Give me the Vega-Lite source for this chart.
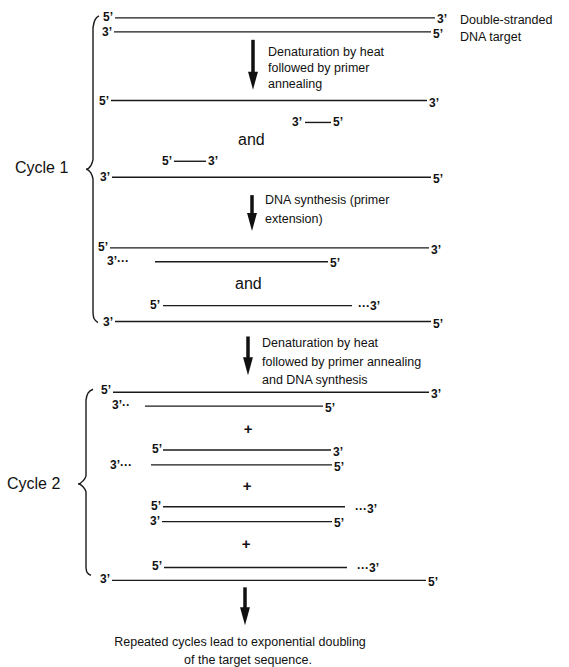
{
  "$schema": "https://vega.github.io/schema/vega-lite/v6.json",
  "width": 569,
  "height": 667,
  "autosize": {"type": "fit", "contains": "padding"},
  "padding": 0,
  "background": "white",
  "config": {"view": {"stroke": null}},
  "datasets": {
    "strands": [
      {"x": 115, "x2": 435, "y": 18},
      {"x": 114, "x2": 431, "y": 32},
      {"x": 111, "x2": 427, "y": 101},
      {"x": 305, "x2": 331, "y": 123},
      {"x": 174, "x2": 206, "y": 162},
      {"x": 112, "x2": 431, "y": 178},
      {"x": 110, "x2": 429, "y": 249},
      {"x": 155, "x2": 328, "y": 263},
      {"x": 163, "x2": 352, "y": 307},
      {"x": 115, "x2": 431, "y": 323},
      {"x": 113, "x2": 429, "y": 394},
      {"x": 145, "x2": 323, "y": 408},
      {"x": 163, "x2": 331, "y": 452},
      {"x": 151, "x2": 332, "y": 467},
      {"x": 163, "x2": 345, "y": 509},
      {"x": 162, "x2": 332, "y": 524},
      {"x": 164, "x2": 347, "y": 570},
      {"x": 112, "x2": 426, "y": 583}
    ],
    "ends": [
      {"x": 103, "y": 17, "t": "5’"}, {"x": 437, "y": 19, "t": "3’"},
      {"x": 102, "y": 32, "t": "3’"}, {"x": 433, "y": 34, "t": "5’"},
      {"x": 99, "y": 101, "t": "5’"}, {"x": 429, "y": 103, "t": "3’"},
      {"x": 292, "y": 123, "t": "3’"}, {"x": 333, "y": 123, "t": "5’"},
      {"x": 162, "y": 162, "t": "5’"}, {"x": 208, "y": 162, "t": "3’"},
      {"x": 100, "y": 178, "t": "3’"}, {"x": 433, "y": 180, "t": "5’"},
      {"x": 98, "y": 248, "t": "5’"}, {"x": 431, "y": 251, "t": "3’"},
      {"x": 107, "y": 262, "t": "3’···"}, {"x": 330, "y": 264, "t": "5’"},
      {"x": 150, "y": 306, "t": "5’"}, {"x": 358, "y": 307, "t": "···3’"},
      {"x": 103, "y": 323, "t": "3’"}, {"x": 433, "y": 325, "t": "5’"},
      {"x": 101, "y": 392, "t": "5’"}, {"x": 431, "y": 396, "t": "3’"},
      {"x": 112, "y": 407, "t": "3’··"}, {"x": 325, "y": 410, "t": "5’"},
      {"x": 152, "y": 451, "t": "5’"}, {"x": 333, "y": 454, "t": "3’"},
      {"x": 110, "y": 467, "t": "3’···"}, {"x": 334, "y": 469, "t": "5’"},
      {"x": 151, "y": 508, "t": "5’"}, {"x": 355, "y": 511, "t": "···3’"},
      {"x": 150, "y": 523, "t": "3’"}, {"x": 334, "y": 525, "t": "5’"},
      {"x": 152, "y": 569, "t": "5’"}, {"x": 357, "y": 571, "t": "···3’"},
      {"x": 100, "y": 582, "t": "3’"}, {"x": 428, "y": 585, "t": "5’"}
    ],
    "notes": [
      {"x": 460, "y": 20, "t": "Double-stranded"},
      {"x": 460, "y": 37, "t": "DNA target"},
      {"x": 268, "y": 52, "t": "Denaturation by heat"},
      {"x": 268, "y": 68, "t": "followed by primer"},
      {"x": 268, "y": 84, "t": "annealing"},
      {"x": 265, "y": 201, "t": "DNA synthesis (primer"},
      {"x": 265, "y": 220, "t": "extension)"},
      {"x": 262, "y": 345, "t": "Denaturation by heat"},
      {"x": 262, "y": 364, "t": "followed by primer annealing"},
      {"x": 262, "y": 382, "t": "and DNA synthesis"}
    ],
    "big": [
      {"x": 15, "y": 169, "t": "Cycle 1"},
      {"x": 7, "y": 486, "t": "Cycle 2"},
      {"x": 238, "y": 141, "t": "and"},
      {"x": 235, "y": 285, "t": "and"}
    ],
    "plus": [
      {"x": 248, "y": 431, "t": "+"},
      {"x": 247, "y": 488, "t": "+"},
      {"x": 246, "y": 546, "t": "+"}
    ],
    "caption": [
      {"x": 240, "y": 645, "t": "Repeated cycles lead to exponential doubling"},
      {"x": 248, "y": 663, "t": "of the target sequence."}
    ],
    "arrows": [
      {"x": 253, "y": 40, "y2": 78, "yh": 81},
      {"x": 252, "y": 196, "y2": 220, "yh": 223},
      {"x": 248, "y": 338, "y2": 365, "yh": 368},
      {"x": 245, "y": 590, "y2": 616, "yh": 619}
    ],
    "braces": [
      {"b": "c1", "o": 1, "x": 99, "y": 16},
      {"b": "c1", "o": 2, "x": 95, "y": 20},
      {"b": "c1", "o": 3, "x": 93, "y": 28},
      {"b": "c1", "o": 4, "x": 93, "y": 160},
      {"b": "c1", "o": 5, "x": 91, "y": 166},
      {"b": "c1", "o": 6, "x": 86, "y": 170},
      {"b": "c1", "o": 7, "x": 91, "y": 174},
      {"b": "c1", "o": 8, "x": 93, "y": 180},
      {"b": "c1", "o": 9, "x": 93, "y": 314},
      {"b": "c1", "o": 10, "x": 94, "y": 320},
      {"b": "c1", "o": 11, "x": 98, "y": 324},
      {"b": "c2", "o": 1, "x": 93, "y": 391},
      {"b": "c2", "o": 2, "x": 88, "y": 395},
      {"b": "c2", "o": 3, "x": 86, "y": 402},
      {"b": "c2", "o": 4, "x": 86, "y": 478},
      {"b": "c2", "o": 5, "x": 83, "y": 483},
      {"b": "c2", "o": 6, "x": 78, "y": 486},
      {"b": "c2", "o": 7, "x": 83, "y": 489},
      {"b": "c2", "o": 8, "x": 86, "y": 494},
      {"b": "c2", "o": 9, "x": 86, "y": 570},
      {"b": "c2", "o": 10, "x": 87, "y": 575},
      {"b": "c2", "o": 11, "x": 91, "y": 578}
    ]
  },
  "layer": [
    {
      "data": {"name": "strands"},
      "mark": {"type": "rule", "color": "#1a1a1a", "strokeWidth": 1.4},
      "encoding": {
        "x": {"field": "x", "type": "quantitative", "scale": {"domain": [0, 569], "nice": false, "zero": false}, "axis": null},
        "x2": {"field": "x2"},
        "y": {"field": "y", "type": "quantitative", "scale": {"domain": [0, 667], "nice": false, "zero": false, "reverse": true}, "axis": null}
      }
    },
    {
      "data": {"name": "braces"},
      "mark": {"type": "line", "color": "#1a1a1a", "strokeWidth": 1.4, "interpolate": "monotone"},
      "encoding": {
        "x": {"field": "x", "type": "quantitative"},
        "y": {"field": "y", "type": "quantitative"},
        "detail": {"field": "b"},
        "order": {"field": "o", "type": "quantitative"}
      }
    },
    {
      "data": {"name": "arrows"},
      "mark": {"type": "rule", "color": "#111", "strokeWidth": 3.5},
      "encoding": {
        "x": {"field": "x", "type": "quantitative"},
        "y": {"field": "y", "type": "quantitative"},
        "y2": {"field": "y2"}
      }
    },
    {
      "data": {"name": "arrows"},
      "mark": {"type": "point", "shape": "M-0.55,-1 L0.55,-1 L0,1 Z", "filled": true, "color": "#111", "opacity": 1, "size": 324},
      "encoding": {
        "x": {"field": "x", "type": "quantitative"},
        "y": {"field": "yh", "type": "quantitative"}
      }
    },
    {
      "data": {"name": "ends"},
      "mark": {"type": "text", "align": "left", "baseline": "middle", "font": "Liberation Sans", "fontSize": 12, "fontWeight": "bold", "color": "#111"},
      "encoding": {
        "x": {"field": "x", "type": "quantitative"},
        "y": {"field": "y", "type": "quantitative"},
        "text": {"field": "t"}
      }
    },
    {
      "data": {"name": "notes"},
      "mark": {"type": "text", "align": "left", "baseline": "middle", "font": "Liberation Sans", "fontSize": 12.5, "color": "#111"},
      "encoding": {
        "x": {"field": "x", "type": "quantitative"},
        "y": {"field": "y", "type": "quantitative"},
        "text": {"field": "t"}
      }
    },
    {
      "data": {"name": "big"},
      "mark": {"type": "text", "align": "left", "baseline": "middle", "font": "Liberation Sans", "fontSize": 16, "color": "#111"},
      "encoding": {
        "x": {"field": "x", "type": "quantitative"},
        "y": {"field": "y", "type": "quantitative"},
        "text": {"field": "t"}
      }
    },
    {
      "data": {"name": "plus"},
      "mark": {"type": "text", "align": "center", "baseline": "middle", "font": "Liberation Sans", "fontSize": 15, "fontWeight": "bold", "color": "#111"},
      "encoding": {
        "x": {"field": "x", "type": "quantitative"},
        "y": {"field": "y", "type": "quantitative"},
        "text": {"field": "t"}
      }
    },
    {
      "data": {"name": "caption"},
      "mark": {"type": "text", "align": "center", "baseline": "middle", "font": "Liberation Sans", "fontSize": 12.5, "color": "#111"},
      "encoding": {
        "x": {"field": "x", "type": "quantitative"},
        "y": {"field": "y", "type": "quantitative"},
        "text": {"field": "t"}
      }
    }
  ]
}
